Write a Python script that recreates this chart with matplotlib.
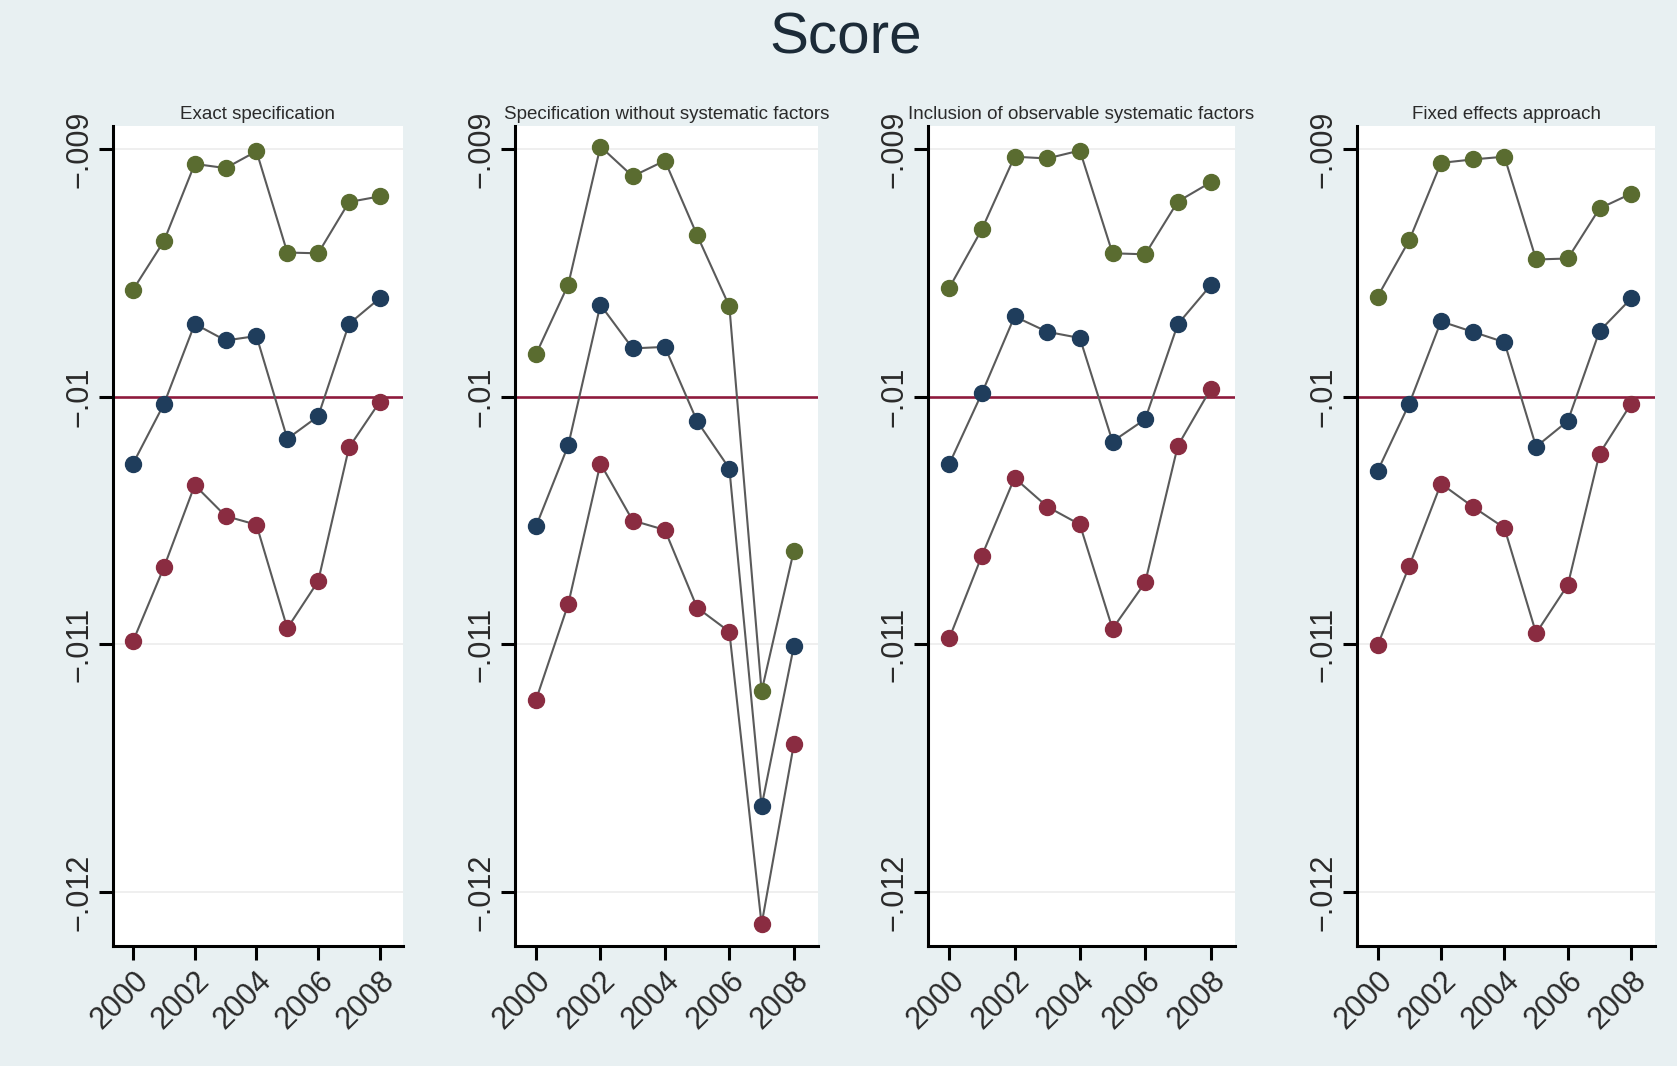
import matplotlib
matplotlib.use("Agg")
import matplotlib.pyplot as plt

plt.rcParams["font.family"] = ["Liberation Sans", "DejaVu Sans"]

years = [2000, 2001, 2002, 2003, 2004, 2005, 2006, 2007, 2008]

panel_titles = [
    "Exact specification",
    "Specification without systematic factors",
    "Inclusion of observable systematic factors",
    "Fixed effects approach",
]

# Point estimates (blue) and band limits (green = upper, red = lower) per panel
exact_mid = [-0.010270, -0.010030, -0.009706, -0.009773, -0.009755, -0.010170, -0.010079, -0.009706, -0.009602]
exact_hi = [-0.009568, -0.009372, -0.009060, -0.009077, -0.009009, -0.009418, -0.009421, -0.009214, -0.009191]
exact_lo = [-0.010987, -0.010689, -0.010357, -0.010482, -0.010517, -0.010935, -0.010745, -0.010205, -0.010020]

nosys_mid = [-0.010524, -0.010197, -0.009629, -0.009805, -0.009799, -0.010099, -0.010290, -0.011654, -0.011008]
nosys_hi = [-0.009829, -0.009548, -0.008990, -0.009110, -0.009047, -0.009348, -0.009635, -0.011190, -0.010622]
nosys_lo = [-0.011225, -0.010838, -0.010270, -0.010500, -0.010538, -0.010852, -0.010949, -0.012130, -0.011404]

obs_mid = [-0.010272, -0.009986, -0.009676, -0.009738, -0.009763, -0.010181, -0.010091, -0.009707, -0.009551]
obs_hi = [-0.009561, -0.009324, -0.009031, -0.009038, -0.009006, -0.009421, -0.009425, -0.009212, -0.009135]
obs_lo = [-0.010976, -0.010642, -0.010328, -0.010444, -0.010516, -0.010937, -0.010750, -0.010198, -0.009970]

fe_mid = [-0.010300, -0.010028, -0.009696, -0.009738, -0.009780, -0.010202, -0.010098, -0.009735, -0.009603]
fe_hi = [-0.009596, -0.009368, -0.009056, -0.009042, -0.009031, -0.009446, -0.009442, -0.009240, -0.009180]
fe_lo = [-0.011004, -0.010683, -0.010351, -0.010444, -0.010530, -0.010955, -0.010760, -0.010230, -0.010028]

panels_mid = [exact_mid, nosys_mid, obs_mid, fe_mid]
panels_hi = [exact_hi, nosys_hi, obs_hi, fe_hi]
panels_lo = [exact_lo, nosys_lo, obs_lo, fe_lo]

y_ticks = [-0.012, -0.011, -0.010, -0.009]
y_tick_labels = ["\u2212.012", "\u2212.011", "\u2212.01", "\u2212.009"]
x_ticks = [2000, 2002, 2004, 2006, 2008]
x_tick_labels = ["2000", "2002", "2004", "2006", "2008"]
ref_value = -0.010

BG = "#e8f0f2"
NAVY = "#1f3d5c"
MAROON = "#8a2c41"
OLIVE = "#5a6c30"
LINE = "#5a5a5a"
REF = "#8e1a3d"
TXT = "#2a2a2a"

W, H = 1677, 1066
fig = plt.figure(figsize=(W / 100, H / 100), dpi=100, facecolor=BG)

# panel boxes in pixels: left, right
boxes = [(113, 403), (515, 818), (928, 1235), (1357, 1655)]
top_px, bot_px = 126, 946

fig.text(846 / W, 1 - 38 / H, "Score", ha="center", va="center",
         fontsize=42, color="#1c2b38")

for i, (l, r) in enumerate(boxes):
    ax = fig.add_axes([l / W, 1 - bot_px / H, (r - l) / W, (bot_px - top_px) / H])
    ax.set_facecolor("white")
    ax.set_xlim(1999.35, 2008.75)
    ax.set_ylim(-0.012218, -0.008907)

    for yt in y_ticks:
        if yt != ref_value:
            ax.axhline(yt, color="#ececec", lw=1.2, zorder=1)
    ax.axhline(ref_value, color=REF, lw=1.9, zorder=2)

    for vals, col in ((panels_mid[i], NAVY), (panels_lo[i], MAROON), (panels_hi[i], OLIVE)):
        ax.plot(years, vals, color=LINE, lw=1.5, zorder=3)
        ax.plot(years, vals, ls="none", marker="o", ms=11.5, mfc=col, mec=col, zorder=4)

    for side in ("top", "right"):
        ax.spines[side].set_visible(False)
    for side in ("left", "bottom"):
        ax.spines[side].set_linewidth(2.2)
        ax.spines[side].set_color("black")

    ax.set_yticks(y_ticks)
    ax.set_yticklabels(y_tick_labels, rotation=90, va="center", fontsize=22, color=TXT)
    ax.set_xticks(x_ticks)
    ax.set_xticklabels(x_tick_labels, rotation=45, ha="right", va="top",
                       rotation_mode="anchor", fontsize=22, color=TXT)
    ax.tick_params(axis="both", length=10, width=2.2, color="black", pad=4)
    ax.tick_params(axis="y", pad=3)

    ax.set_title(panel_titles[i], fontsize=13.5, color=TXT, pad=5)

fig.savefig("out.png", dpi=100, facecolor=BG)
